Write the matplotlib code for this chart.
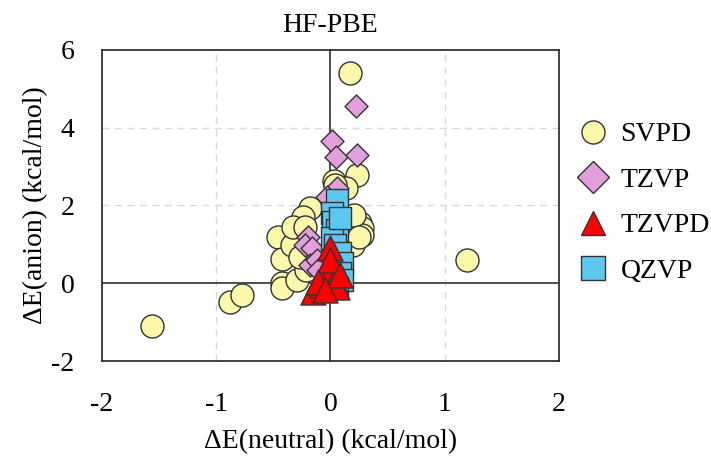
import matplotlib.pyplot as plt
from matplotlib.lines import Line2D

plt.rcParams["font.family"] = ["Liberation Serif", "DejaVu Serif"]
plt.rcParams["axes.unicode_minus"] = False

# Data (kcal/mol)
svpd_x = [0.17, 1.20, -1.56, -0.88, -0.77, -0.46, -0.42, -0.42, -0.42, -0.34,
          -0.29, 0.23, 0.03, 0.14, -0.18, -0.24, -0.33, -0.22, 0.26, 0.28,
          0.28, 0.20, -0.18, -0.21, -0.27, 0.04, 0.21, 0.25]
svpd_y = [5.40, 0.59, -1.11, -0.49, -0.31, 1.18, 0.62, 0.00, -0.13, 0.98,
          0.08, 2.78, 2.62, 2.44, 1.93, 1.70, 1.44, 1.44, 1.54, 1.41,
          1.23, 0.98, 0.54, 0.33, 0.67, 2.52, 1.75, 1.18]

tzvp_x = [0.22, 0.01, 0.05, 0.23, 0.06, -0.03, -0.20, -0.22, -0.16, -0.18, -0.12, -0.11]
tzvp_y = [4.55, 3.65, 3.24, 3.29, 2.44, 2.21, 1.18, 0.98, 0.90, 0.46, 0.59, 0.33]

qzvp_x = [0.06, 0.01, 0.02, 0.06, 0.01, 0.04, 0.08, 0.10, 0.08, 0.10, 0.06, 0.08]
qzvp_y = [2.13, 1.80, 1.57, 1.36, 1.16, 0.98, 0.77, 0.51, 0.26, 0.08, -0.13, 1.67]

tzvpd_x = [0.00, -0.15, -0.07, -0.03, 0.01, 0.04, 0.06, 0.00, 0.08, -0.11, -0.05]
tzvpd_y = [0.90, -0.23, -0.05, 0.41, 0.33, 0.08, -0.10, 0.59, 0.21, 0.03, -0.18]

c_svpd = "#FBF8AC"
c_tzvp = "#E39EDC"
c_tzvpd = "#FF0000"
c_qzvp = "#5CC8F0"
edge = "#333333"

fig = plt.figure(figsize=(7.11, 4.62), dpi=100)
ax = fig.add_axes([0.1435, 0.2186, 0.6425, 0.6732])

ax.set_xlim(-2, 2)
ax.set_ylim(-2, 6)
ax.set_xticks([-2, -1, 0, 1, 2])
ax.set_yticks([-2, 0, 2, 4, 6])
ax.tick_params(length=0, labelsize=20)
ax.tick_params(axis="x", pad=22)
ax.tick_params(axis="y", pad=20)

# dashed grid, solid zero lines
for gx in [-1, 1]:
    ax.axvline(gx, color="#d9d9d9", ls=(0, (5, 4)), lw=1, zorder=0)
for gy in [2, 4]:
    ax.axhline(gy, color="#d9d9d9", ls=(0, (5, 4)), lw=1, zorder=0)
ax.axvline(0, color="#404040", lw=1.3, zorder=1)
ax.axhline(0, color="#404040", lw=1.3, zorder=1)

for sp in ax.spines.values():
    sp.set_color("#222222")
    sp.set_linewidth(1.2)

ax.scatter(svpd_x, svpd_y, s=275, marker="o", c=c_svpd, edgecolors=edge, linewidths=1, zorder=2)
ax.scatter(tzvp_x, tzvp_y, s=137, marker="D", c=c_tzvp, edgecolors=edge, linewidths=1, zorder=3)
ax.scatter(qzvp_x, qzvp_y, s=250, marker="s", c=c_qzvp, edgecolors=edge, linewidths=1, zorder=4)
ax.scatter(tzvpd_x, tzvpd_y, s=324, marker="^", c=c_tzvpd, edgecolors=edge, linewidths=1, zorder=5)

ax.set_title("HF-PBE", fontsize=20, pad=13)
ax.set_xlabel("ΔE(neutral) (kcal/mol)", fontsize=20, labelpad=9)
ax.set_ylabel("ΔE(anion) (kcal/mol)", fontsize=20, labelpad=2)

handles = [
    Line2D([], [], ls="none", marker="o", ms=16.6, mfc=c_svpd, mec=edge, mew=1),
    Line2D([], [], ls="none", marker="D", ms=16.8, mfc=c_tzvp, mec=edge, mew=1),
    Line2D([], [], ls="none", marker="^", ms=16.6, mfc=c_tzvpd, mec=edge, mew=1),
    Line2D([], [], ls="none", marker="s", ms=16.6, mfc=c_qzvp, mec=edge, mew=1),
]
fig.legend(handles, ["SVPD", "TZVP", "TZVPD", "QZVP"], loc="upper left",
           bbox_to_anchor=(0.775, 0.79), frameon=False, fontsize=20,
           labelspacing=0.72, handletextpad=0.4, handlelength=1.2)

fig.savefig("out.png", dpi=100)
